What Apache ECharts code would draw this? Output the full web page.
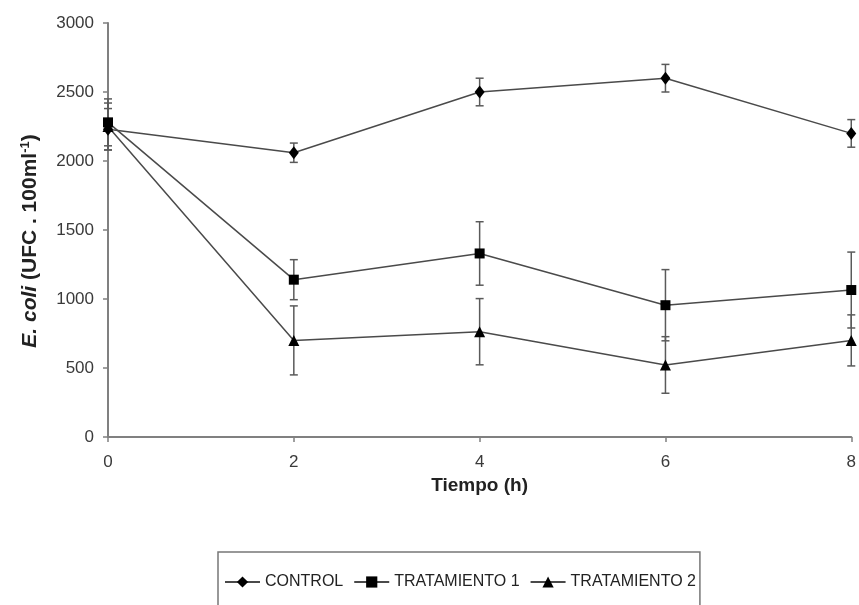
<!DOCTYPE html>
<html>
<head>
<meta charset="utf-8">
<script src="https://cdn.jsdelivr.net/npm/echarts@6/dist/echarts.min.js"></script>
<style>
html,body{margin:0;padding:0;background:#fff;}
#chart{width:859px;height:605px;}
</style>
</head>
<body>
<div id="chart"></div>
<script>
// Data
var times = [0, 2, 4, 6, 8];
var seriesNames = ['CONTROL', 'TRATAMIENTO 1', 'TRATAMIENTO 2'];
var control = [2230, 2060, 2500, 2600, 2200];
var controlErr = [150, 70, 100, 100, 100];
var trat1 = [2280, 1140, 1330, 955, 1065];
var trat1Err = [170, 145, 230, 258, 275];
var trat2 = [2250, 700, 763, 522, 700];
var trat2Err = [170, 250, 240, 205, 185];
var yTicks = [0, 500, 1000, 1500, 2000, 2500, 3000];
var xTicks = [0, 2, 4, 6, 8];

var FONT = '"Liberation Sans", Arial, sans-serif';
var LINE = '#4a4a4a';
var ERR = '#5a5a5a';

function pts(vals) { return times.map(function (t, i) { return [t, vals[i]]; }); }
function errs(vals, e) { return times.map(function (t, i) { return [t, vals[i] - e[i], vals[i] + e[i]]; }); }

function errRender(params, api) {
  var x = api.value(0);
  var lo = api.coord([x, api.value(1)]);
  var hi = api.coord([x, api.value(2)]);
  var w = 4;
  var st = { stroke: ERR, lineWidth: 1.5 };
  return {
    type: 'group',
    children: [
      { type: 'line', shape: { x1: lo[0], y1: lo[1], x2: hi[0], y2: hi[1] }, style: st },
      { type: 'line', shape: { x1: lo[0] - w, y1: lo[1], x2: lo[0] + w, y2: lo[1] }, style: st },
      { type: 'line', shape: { x1: hi[0] - w, y1: hi[1], x2: hi[0] + w, y2: hi[1] }, style: st }
    ]
  };
}

function lineSeries(name, vals, symbol, size) {
  return {
    name: name, type: 'line', data: pts(vals), symbol: symbol, symbolSize: size,
    clip: false, z: 3,
    lineStyle: { color: LINE, width: 1.5 },
    itemStyle: { color: '#000' }
  };
}
function errSeries(vals, e) {
  return { type: 'custom', renderItem: errRender, data: errs(vals, e), clip: false, z: 2, silent: true };
}

var chart = echarts.init(document.getElementById('chart'), null, { renderer: 'canvas' });
chart.setOption({
  animation: false,
  backgroundColor: '#fff',
  grid: { left: 108, right: 5, top: 23, bottom: 168 },
  xAxis: {
    type: 'value', min: xTicks[0], max: xTicks[xTicks.length - 1], interval: 2,
    name: 'Tiempo (h)', nameLocation: 'middle', nameGap: 33,
    nameTextStyle: { fontFamily: FONT, fontWeight: 'bold', fontSize: 19, color: '#222' },
    axisLine: { lineStyle: { color: '#808080', width: 2 } },
    axisTick: { show: true, inside: false, length: 5, lineStyle: { color: '#808080', width: 1.5 } },
    axisLabel: { margin: 17, fontFamily: FONT, fontSize: 17, color: '#3a3a3a', formatter: function (v) { return String(v); } },
    splitLine: { show: false }
  },
  yAxis: {
    type: 'value', min: yTicks[0], max: yTicks[yTicks.length - 1], interval: 500,
    name: '{i|E. coli} (UFC . 100ml{sup|-1})', nameLocation: 'middle', nameGap: 66, nameRotate: 90,
    nameTextStyle: {
      fontFamily: FONT, fontWeight: 'bold', fontSize: 21, color: '#222', padding: [0, 22, 0, 0],
      rich: {
        i: { fontFamily: FONT, fontWeight: 'bold', fontStyle: 'italic', fontSize: 21, color: '#222' },
        sup: { fontFamily: FONT, fontWeight: 'bold', fontSize: 13, color: '#222', verticalAlign: 'top', padding: [0, 0, 10, 0] }
      }
    },
    axisLine: { show: true, lineStyle: { color: '#808080', width: 2 } },
    axisTick: { show: true, inside: false, length: 5, lineStyle: { color: '#808080', width: 1.5 } },
    axisLabel: { margin: 14, fontFamily: FONT, fontSize: 17, color: '#3a3a3a', formatter: function (v) { return String(v); } },
    splitLine: { show: false }
  },
  legend: {
    left: 218, top: 552, orient: 'horizontal',
    padding: [22, 4, 20, 6],
    borderColor: '#777', borderWidth: 1.5,
    itemWidth: 35, itemHeight: 14, itemGap: 10,
    textStyle: { fontFamily: FONT, fontSize: 16, color: '#222' },
    data: seriesNames
  },
  series: [
    errSeries(control, controlErr),
    errSeries(trat1, trat1Err),
    errSeries(trat2, trat2Err),
    lineSeries(seriesNames[0], control, 'diamond', [10, 13]),
    lineSeries(seriesNames[1], trat1, 'rect', 10),
    lineSeries(seriesNames[2], trat2, 'triangle', 11)
  ]
});
</script>
</body>
</html>
